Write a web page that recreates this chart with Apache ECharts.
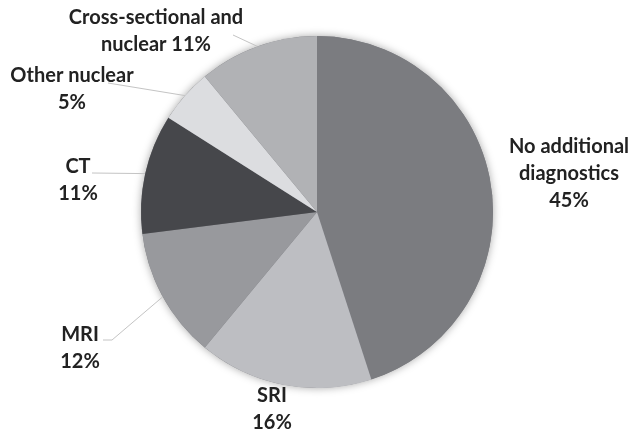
<!DOCTYPE html>
<html>
<head>
<meta charset="utf-8">
<script src="https://cdn.jsdelivr.net/npm/echarts@6/dist/echarts.min.js"></script>
<style>
  html, body { margin: 0; padding: 0; background: #ffffff; }
  #chart { width: 634px; height: 434px; }
</style>
</head>
<body>
<div id="chart"></div>
<script>
// Share of patients by follow-up diagnostic route (percent)
const categories = [
  'No additional\ndiagnostics',
  'SRI',
  'MRI',
  'CT',
  'Other nuclear',
  'Cross-sectional and\nnuclear'
];
const shares = [45, 16, 12, 11, 5, 11];
const sliceColors = ['#7b7c80', '#bdbec2', '#98999d', '#46474b', '#dcdde0', '#b1b2b5'];
// whether the percentage goes on its own line or follows the name
const percentOnOwnLine = [true, true, true, true, true, false];

// Label block centres and leader-line bends (null = label sits beside the slice, no leader)
const labelPlacement = [
  { x: 569, y: 174, bend: null },
  { x: 272, y: 409, bend: null },
  { x: 80,  y: 348, bend: [[112, 340], [103, 340]] },
  { x: 78,  y: 180, bend: [[92, 173], [92, 173]] },
  { x: 72,  y: 89,  bend: [[108, 83], [108, 83]] },
  { x: 156, y: 31,  bend: [[233, 35], [233, 35]] }
];

const pieCenter = [317, 212];
const pieRadius = 176;

const chart = echarts.init(document.getElementById('chart'), null, { renderer: 'canvas' });

const sliceData = categories.map((name, i) => ({
  name: name,
  value: shares[i],
  itemStyle: { color: sliceColors[i] },
  labelLine: { show: labelPlacement[i].bend !== null }
}));

const total = shares.reduce((a, b) => a + b, 0);

chart.setOption({
  animation: false,
  backgroundColor: '#ffffff',
  series: [
    {
      // soft halo behind the pie
      type: 'pie',
      silent: true,
      z: 1,
      center: pieCenter,
      radius: pieRadius,
      startAngle: 90,
      data: [{ value: total, name: '' }],
      label: { show: false },
      labelLine: { show: false },
      itemStyle: {
        color: '#7b7c80',
        shadowBlur: 8,
        shadowColor: 'rgba(0,0,0,0.35)'
      }
    },
    {
      type: 'pie',
      z: 2,
      center: pieCenter,
      radius: pieRadius,
      startAngle: 90,
      clockwise: true,
      avoidLabelOverlap: false,
      data: sliceData,
      itemStyle: { borderWidth: 0 },
      label: {
        show: true,
        position: 'outside',
        overflow: 'none',
        fontFamily: 'Lato',
        fontWeight: 'bold',
        fontSize: 20,
        lineHeight: 27,
        color: '#222222',
        align: 'center',
        formatter: (p) => p.name + (percentOnOwnLine[p.dataIndex] ? '\n' : ' ') + p.value + '%'
      },
      labelLine: {
        show: true,
        length: 10,
        length2: 10,
        lineStyle: { color: '#c4c4c4', width: 1 }
      },
      labelLayout: (params) => {
        const place = labelPlacement[params.dataIndex];
        const out = { x: place.x, y: place.y, align: 'center', verticalAlign: 'middle' };
        if (place.bend && params.labelLinePoints) {
          out.labelLinePoints = [params.labelLinePoints[0], place.bend[0], place.bend[1]];
        }
        return out;
      }
    }
  ]
});
</script>
</body>
</html>
